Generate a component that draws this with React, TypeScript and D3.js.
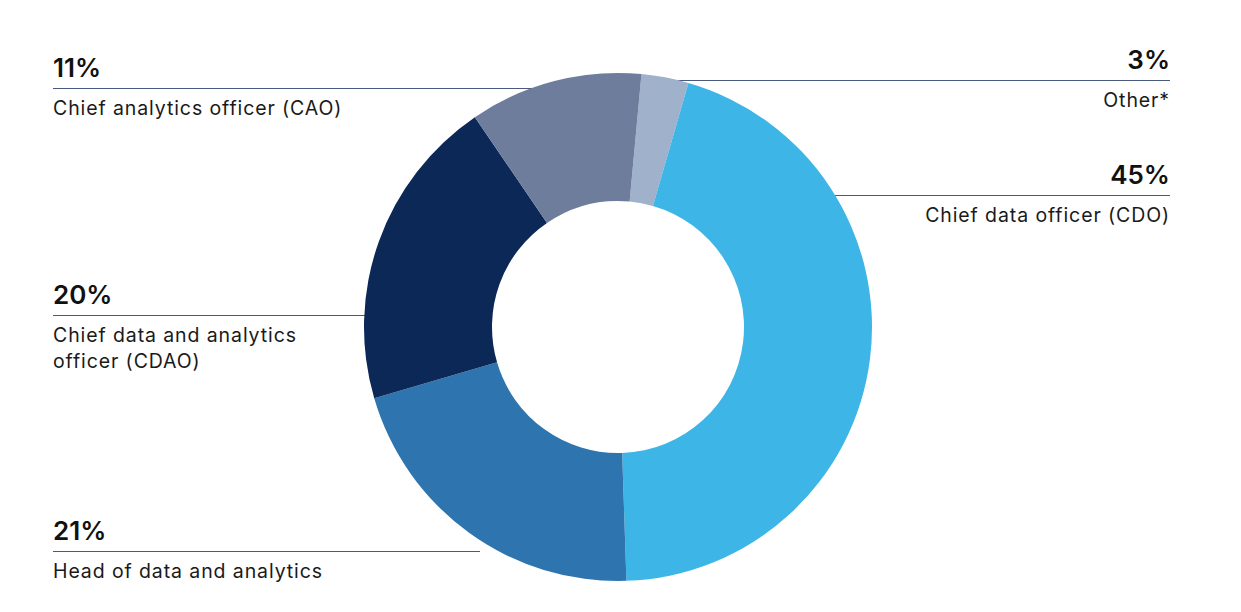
import React from "react";
import * as d3 from "d3";

const categories = ["Other*", "Chief data officer (CDO)", "Head of data and analytics", "Chief data and analytics officer (CDAO)", "Chief analytics officer (CAO)"];
const values = [3, 45, 21, 20, 11];
const colors = ["#a0b1cc", "#3db5e6", "#2e75b0", "#0b2856", "#6e7d9c"];
const pctLabels = ["3%", "45%", "21%", "20%", "11%"];
const labelLines = [["Other*"], ["Chief data officer (CDO)"], ["Head of data and analytics"], ["Chief data and analytics", "officer (CDAO)"], ["Chief analytics officer (CAO)"]];

const W = 1241, H = 612;
const cx = 618, cy = 327, rOuter = 254, rInner = 126;
const startAngle = (5.3 * Math.PI) / 180;

const layout = [
  { side: "right", lineY: 80, x0: 660 },
  { side: "right", lineY: 195, x0: 800 },
  { side: "left", lineY: 551, x1: 480 },
  { side: "left", lineY: 315, x1: 400 },
  { side: "left", lineY: 88, x1: 560 },
];

export default function App() {
  const pie = d3.pie<number>().sort(null).value((d) => d).startAngle(startAngle).endAngle(startAngle + 2 * Math.PI);
  const arcs = pie(values);
  const arc = d3.arc<d3.PieArcDatum<number>>().innerRadius(rInner).outerRadius(rOuter);
  const font = "Inter, 'Liberation Sans', Arial, sans-serif";
  return (
    <svg width={W} height={H} style={{ position: "absolute", left: 0, top: 0 }} fontFamily={font}>
      <rect width={W} height={H} fill="#fff" />
      {layout.map((l, i) => (
        <line key={"l" + i} x1={l.side === "left" ? 53 : l.x0} x2={l.side === "left" ? l.x1 : 1170} y1={l.lineY + 0.5} y2={l.lineY + 0.5} stroke="#4a5a7e" strokeWidth={1} />
      ))}
      <g transform={`translate(${cx},${cy})`}>
        {arcs.map((a, i) => (
          <path key={i} d={arc(a) || ""} fill={colors[i]} />
        ))}
      </g>
      {layout.map((l, i) => {
        const anchor = l.side === "left" ? "start" : "end";
        const x = l.side === "left" ? 53 : 1170;
        return (
          <g key={"t" + i}>
            <text x={x} y={l.lineY - 11} textAnchor={anchor} fontSize={26} fontWeight={600} fill="#111">{pctLabels[i]}</text>
            {labelLines[i].map((s, j) => (
              <text key={j} x={x} y={l.lineY + 27 + j * 26} textAnchor={anchor} fontSize={19.5} letterSpacing={0.9} fill="#1a1a1a">{s}</text>
            ))}
          </g>
        );
      })}
    </svg>
  );
}
